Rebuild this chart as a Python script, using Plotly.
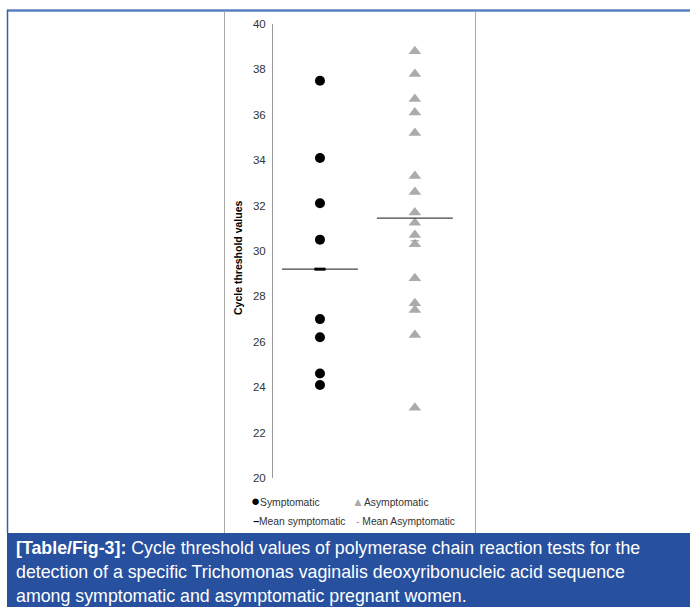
import plotly.graph_objects as go

# ---- data ----
groups = ["Symptomatic", "Asymptomatic"]
symptomatic_ct = [37.5, 34.1, 32.1, 30.5, 27.0, 26.2, 24.6, 24.1]
asymptomatic_ct = [38.8, 37.8, 36.7, 36.1, 35.2, 33.3, 32.6, 31.7, 31.25,
                   30.7, 30.3, 28.8, 27.7, 27.4, 26.3, 23.1]
mean_symptomatic = 29.2
mean_asymptomatic = 31.45
mean_asym_marker = 30.45
y_ticks = [20, 22, 24, 26, 28, 30, 32, 34, 36, 38, 40]
caption_lines = [
    "<b>[Table/Fig-3]:</b> Cycle threshold values of polymerase chain reaction tests for the",
    "detection of a specific Trichomonas vaginalis deoxyribonucleic acid sequence",
    "among symptomatic and asymptomatic pregnant women.",
]

W, H = 690, 607
L, R, T, B = 273, 468, 24, 478  # plot area in pixels

def px(xp):
    return (xp - L) / (R - L)

def py(yp):
    return (B - yp) / (B - T)

FONT = "Liberation Sans, Arial, Helvetica, sans-serif"

fig = go.Figure()

fig.add_trace(go.Scatter(
    x=[1] * len(symptomatic_ct), y=symptomatic_ct, mode="markers",
    marker=dict(symbol="circle", size=10, color="#000000"),
    name="Symptomatic", showlegend=False, hoverinfo="y"))
fig.add_trace(go.Scatter(
    x=[2] * len(asymptomatic_ct), y=asymptomatic_ct, mode="markers",
    marker=dict(symbol="triangle-up", size=11, color="#ababab"),
    name="Asymptomatic", showlegend=False, hoverinfo="y"))

# mean lines
half = 0.4
fig.add_trace(go.Scatter(
    x=[1 - half, 1 + half], y=[mean_symptomatic] * 2, mode="lines",
    line=dict(color="#444444", width=1.2), showlegend=False, hoverinfo="skip"))
fig.add_trace(go.Scatter(
    x=[2 - half, 2 + half], y=[mean_asymptomatic] * 2, mode="lines",
    line=dict(color="#444444", width=1.2), showlegend=False, hoverinfo="skip"))
# mean markers
fig.add_trace(go.Scatter(
    x=[1], y=[mean_symptomatic], mode="markers",
    marker=dict(symbol="line-ew", size=8, line=dict(color="#000000", width=3)),
    showlegend=False, hoverinfo="y"))
fig.add_trace(go.Scatter(
    x=[2], y=[mean_asym_marker], mode="markers",
    marker=dict(symbol="line-ew", size=6, line=dict(color="#9a9a9a", width=1)),
    showlegend=False, hoverinfo="y"))

shapes = [
    # top blue line
    dict(type="line", xref="paper", yref="paper", x0=px(7), x1=px(690), y0=py(10.5), y1=py(10.5),
         line=dict(color="#5a7fbf", width=2.5)),
    # left blue line
    dict(type="line", xref="paper", yref="paper", x0=px(7.5), x1=px(7.5), y0=py(10), y1=py(533),
         line=dict(color="#3a5fa8", width=1.5)),
    # chart frame lines
    dict(type="line", xref="paper", yref="paper", x0=px(224.5), x1=px(224.5), y0=py(11), y1=py(533),
         line=dict(color="#a9a9a9", width=1)),
    dict(type="line", xref="paper", yref="paper", x0=px(475.5), x1=px(475.5), y0=py(11), y1=py(533),
         line=dict(color="#a9a9a9", width=1)),
    # caption box
    dict(type="rect", xref="paper", yref="paper", x0=px(7), x1=px(692), y0=py(533), y1=py(609),
         fillcolor="#27509e", line=dict(width=0), layer="below"),
]

annotations = []
# y axis title
annotations.append(dict(
    text="<b>Cycle threshold values</b>", xref="paper", yref="paper",
    x=px(238), y=py(258), textangle=-90, showarrow=False,
    font=dict(family=FONT, size=10.5, color="#000000"), xanchor="center", yanchor="middle"))

# legend entries
leg = [
    ("<span style='color:#000;font-size:15px'>●</span>Symptomatic", 249, 500.5),
    ("<span style='color:#ababab;font-size:12px'>▲</span>Asymptomatic", 350, 502),
    ("<span style='color:#000'><b>−</b></span>Mean symptomatic", 251, 521),
    ("<span style='color:#9a9a9a'>-</span> Mean Asymptomatic", 354, 521),
]
for txt, xx, yy in leg:
    annotations.append(dict(
        text=txt, xref="paper", yref="paper", x=px(xx), y=py(yy), showarrow=False,
        xanchor="left", yanchor="middle", font=dict(family=FONT, size=10.3, color="#333333")))

# caption
for i, line in enumerate(caption_lines):
    annotations.append(dict(
        text=line, xref="paper", yref="paper", x=px(14), y=py(548 + 24 * i), showarrow=False,
        xanchor="left", yanchor="middle", font=dict(family=FONT, size=17.8, color="#ffffff")))

fig.update_layout(
    width=W, height=H,
    margin=dict(l=L, r=W - R, t=T, b=H - B, pad=0),
    paper_bgcolor="#ffffff", plot_bgcolor="#ffffff",
    showlegend=False,
    xaxis=dict(range=[0.505, 2.56], showgrid=False, zeroline=False, showline=False,
               showticklabels=False, ticks=""),
    yaxis=dict(range=[20, 40], tickvals=y_ticks, showgrid=False, zeroline=False,
               showline=True, linecolor="#9a9a9a", linewidth=1, ticks="",
               ticklabelstandoff=4,
               tickfont=dict(family=FONT, size=11.5, color="#333333")),
    shapes=shapes, annotations=annotations,
    font=dict(family=FONT),
)

fig.write_html("out.html", config={"displayModeBar": False},
               post_script="document.body.style.margin='0';")
